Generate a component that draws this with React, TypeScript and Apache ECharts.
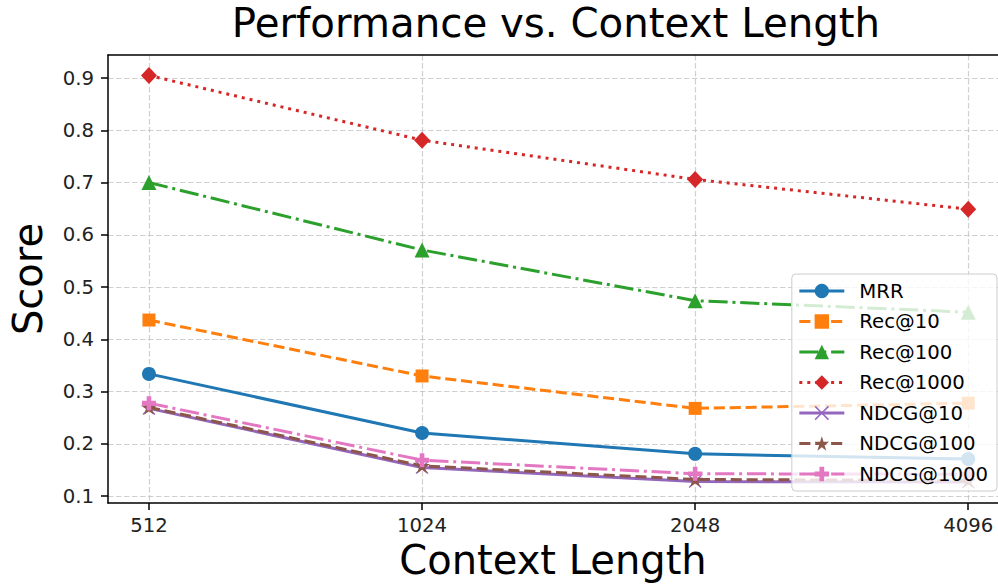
import React, { useEffect, useRef } from "react";
import * as echarts from "echarts";

const categories = ["512", "1024", "2048", "4096"];
const yTicks = [0.1, 0.2, 0.3, 0.4, 0.5, 0.6, 0.7, 0.8, 0.9];
const mrr = [0.334, 0.221, 0.181, 0.171];
const rec10 = [0.437, 0.33, 0.268, 0.278];
const rec100 = [0.7, 0.571, 0.474, 0.452];
const rec1000 = [0.905, 0.781, 0.706, 0.649];
const ndcg10 = [0.268, 0.155, 0.128, 0.127];
const ndcg100 = [0.27, 0.158, 0.132, 0.13];
const ndcg1000 = [0.278, 0.169, 0.143, 0.142];

const seriesNames = ["MRR", "Rec@10", "Rec@100", "Rec@1000", "NDCG@10", "NDCG@100", "NDCG@1000"];
const seriesValues = [mrr, rec10, rec100, rec1000, ndcg10, ndcg100, ndcg1000];
const colors = ["#1f77b4", "#ff7f0e", "#2ca02c", "#d62728", "#9467bd", "#8c564b", "#e377c2"];

const LW = 3;
const dashed = [3.7 * LW, 1.6 * LW];
const dashdot = [6.4 * LW, 1.6 * LW, 1 * LW, 1.6 * LW];
const dotted = [1 * LW, 1.65 * LW];

const starPath =
  "path://M0,-100 L22.45,-30.9 L95.1,-30.9 L36.3,11.8 L58.8,80.9 L0,38.2 L-58.8,80.9 L-36.3,11.8 L-95.1,-30.9 L-22.45,-30.9 Z";
const xPath =
  "path://M-10,-8.5 L-8.5,-10 L0,-1.5 L8.5,-10 L10,-8.5 L1.5,0 L10,8.5 L8.5,10 L0,1.5 L-8.5,10 L-10,8.5 L-1.5,0 Z";
const plusPath =
  "path://M-3.3,-10 L3.3,-10 L3.3,-3.3 L10,-3.3 L10,3.3 L3.3,3.3 L3.3,10 L-3.3,10 L-3.3,3.3 L-10,3.3 L-10,-3.3 L-3.3,-3.3 Z";

const styles: { type: any; symbol: string; size: any }[] = [
  { type: "solid", symbol: "circle", size: 14 },
  { type: dashed, symbol: "rect", size: 13 },
  { type: dashdot, symbol: "triangle", size: 15 },
  { type: dotted, symbol: "diamond", size: [16, 17] },
  { type: "solid", symbol: xPath, size: 13 },
  { type: dashed, symbol: starPath, size: [16, 15] },
  { type: dashdot, symbol: plusPath, size: 14 },
];

const FONT = "DejaVu Sans";

export default function App() {
  const ref = useRef<HTMLDivElement>(null);
  useEffect(() => {
    if (!ref.current) return;
    const chart = echarts.init(ref.current, null, { renderer: "svg" });
    const gridLine = { show: true, lineStyle: { color: "rgba(176,176,176,0.6)", width: 1.2, type: [5.5, 2.5] } };
    const spine = { show: true, onZero: false, lineStyle: { color: "#000", width: 1.5 } };
    chart.setOption({
      animation: false,
      backgroundColor: "#ffffff",
      textStyle: { fontFamily: FONT },
      graphic: [
        {
          type: "text",
          x: 556,
          y: 3,
          style: {
            text: "Performance vs. Context Length",
            textAlign: "center",
            textVerticalAlign: "top",
            font: `40.3px "${FONT}"`,
            fill: "#000",
          },
        },
      ],
      grid: {
        left: 103,
        right: 0,
        top: 55,
        bottom: 80,
        containLabel: false,
      },
      legend: {
        orient: "vertical",
        right: 1,
        top: 274,
        data: seriesNames,
        backgroundColor: "rgba(255,255,255,0.8)",
        borderColor: "#cccccc",
        borderWidth: 1,
        borderRadius: 4,
        padding: [7, 9, 7, 6],
        itemWidth: 45,
        itemHeight: 18,
        itemGap: 10.5,
        lineStyle: { width: 3 },
        textStyle: { fontFamily: FONT, fontSize: 19.7, color: "#000", lineHeight: 20, padding: [0, 0, 0, 10] },
      },
      xAxis: [
        {
          type: "value",
          min: -0.15,
          max: 3.109,
          name: "Context Length",
          nameLocation: "middle",
          nameGap: 37,
          nameTextStyle: { fontFamily: FONT, fontSize: 40, color: "#000", verticalAlign: "top" },
          axisLine: spine,
          axisTick: { show: true, length: 7, customValues: [0, 1, 2, 3], lineStyle: { color: "#000", width: 1.5 } },
          axisLabel: {
            customValues: [0, 1, 2, 3],
            margin: 12,
            fontFamily: FONT,
            fontSize: 19.7,
            color: "#222",
            formatter: (v: number) => categories[Math.round(v)] ?? "",
          },
          splitLine: gridLine,
        },
        {
          type: "value",
          position: "top",
          min: -0.15,
          max: 3.109,
          axisLine: spine,
          axisTick: { show: false },
          axisLabel: { show: false },
          splitLine: { show: false },
        },
      ],
      yAxis: {
        type: "value",
        min: 0.087,
        max: 0.944,
        name: "Score",
        nameLocation: "middle",
        nameRotate: 90,
        nameGap: 60,
        nameTextStyle: { fontFamily: FONT, fontSize: 40, color: "#000" },
        axisLine: spine,
        axisTick: { show: true, length: 7, customValues: yTicks, lineStyle: { color: "#000", width: 1.5 } },
        axisLabel: {
          customValues: yTicks,
          margin: 14,
          fontFamily: FONT,
          fontSize: 19.7,
          color: "#222",
          formatter: (v: number) => v.toFixed(1),
        },
        splitLine: gridLine,
      },
      series: seriesNames.map((name, i) => ({
        name,
        type: "line",
        xAxisIndex: 0,
        data: seriesValues[i].map((v, j) => [j, v]),
        symbol: styles[i].symbol,
        symbolSize: styles[i].size,
        showAllSymbol: true,
        lineStyle: { color: colors[i], width: LW, type: styles[i].type },
        itemStyle: { color: colors[i], borderWidth: 0 },
        emphasis: { disabled: true },
        z: 2 + i * 0.01,
      })),
    });
    return () => chart.dispose();
  }, []);
  return <div ref={ref} style={{ position: "fixed", left: 0, top: 0, width: 998, height: 585 }} />;
}
